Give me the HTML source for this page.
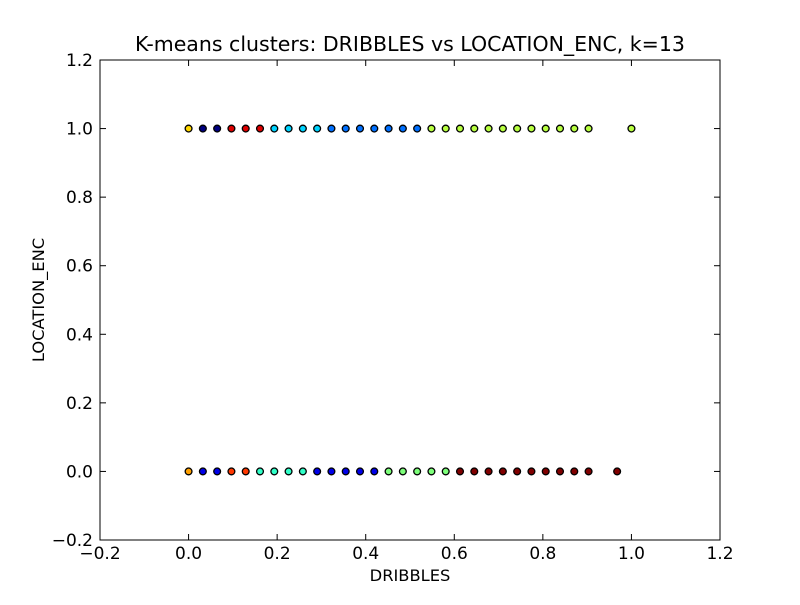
<!DOCTYPE html>
<html><head><meta charset="utf-8"><style>
body{margin:0;background:#fff;width:800px;height:600px;overflow:hidden}
text{font-family:"DejaVu Sans","Liberation Sans",sans-serif;fill:#000}
</style></head><body>
<svg id="chart" width="800" height="600" viewBox="0 0 800 600" xmlns="http://www.w3.org/2000/svg">
<rect width="800" height="600" fill="#fff"/>
<text x="410" y="51" font-size="20.5" text-anchor="middle">K-means clusters: DRIBBLES vs LOCATION_ENC, k=13</text>
<text x="410" y="581" font-size="16.3" text-anchor="middle">DRIBBLES</text>
<text x="44" y="300" font-size="16.3" text-anchor="middle" transform="rotate(-90 44 300)">LOCATION_ENC</text>
<g id="axes"></g>
<g id="points"></g>
<rect x="100" y="60" width="620" height="480" fill="none" stroke="#000" stroke-width="1"/>
</svg>
<script>
const xTicks=[-0.2,0,0.2,0.4,0.6,0.8,1.0,1.2];
const xTickLabels=["\u22120.2","0.0","0.2","0.4","0.6","0.8","1.0","1.2"];
const yTicks=[-0.2,0,0.2,0.4,0.6,0.8,1.0,1.2];
const yTickLabels=["\u22120.2","0.0","0.2","0.4","0.6","0.8","1.0","1.2"];
// points at y=1: dribbles value index/31 and cluster id
const topIdx=[0,1,2,3,4,5,6,7,8,9,10,11,12,13,14,15,16,17,18,19,20,21,22,23,24,25,26,27,28,31];
const topCluster=[0,1,1,2,2,2,3,3,3,3,4,4,4,4,4,4,4,5,5,5,5,5,5,5,5,5,5,5,5,5];
const botIdx=[0,1,2,3,4,5,6,7,8,9,10,11,12,13,14,15,16,17,18,19,20,21,22,23,24,25,26,27,28,30];
const botCluster=[6,7,7,8,8,9,9,9,9,7,7,7,7,7,10,10,10,10,10,11,11,11,11,11,11,11,11,11,11,11];
const clusterColors=["#ffd700","#000080","#dd0000","#00d4ff","#0070ff","#b8ff40","#ffa000","#0000e8","#ff3800","#30ffc8","#7dff7a","#800000"];
const sx=v=>100+(v+0.2)/1.4*620, sy=v=>540-(v+0.2)/1.4*480;
const NS="http://www.w3.org/2000/svg";
const axes=document.getElementById('axes'), pts=document.getElementById('points');
function mk(tag,attrs,parent){const e=document.createElementNS(NS,tag);for(const k in attrs)e.setAttribute(k,attrs[k]);parent.appendChild(e);return e;}
xTicks.forEach((t,i)=>{const x=sx(t);
 const a=mk('line',{x1:x,x2:x,y1:540,y2:534,stroke:'#000'},axes);
 
 
 const b=mk('line',{x1:x,x2:x,y1:60,y2:66,stroke:'#000'},axes);
 
 
 const l=mk('text',{x:x,y:559,'font-size':17,'text-anchor':'middle'},axes);l.textContent=xTickLabels[i];
 
 
});
yTicks.forEach((t,i)=>{const y=sy(t);
 const a=mk('line',{x1:100,x2:106,y1:y,y2:y,stroke:'#000'},axes);
 
 
 const b=mk('line',{x1:714,x2:720,y1:y,y2:y,stroke:'#000'},axes);
 
 
 const l=mk('text',{x:93,y:y+6,'font-size':17,'text-anchor':'end'},axes);l.textContent=yTickLabels[i];
 
 
});
function draw(idx,cl,yv){idx.forEach((d,i)=>{
 const c=mk('circle',{cx:sx(d/31),cy:sy(yv),r:3.4,fill:clusterColors[cl[i]],stroke:'#000','stroke-width':1.3},pts);
 
 
});}
draw(topIdx,topCluster,1);
draw(botIdx,botCluster,0);
</script>
</body></html>
